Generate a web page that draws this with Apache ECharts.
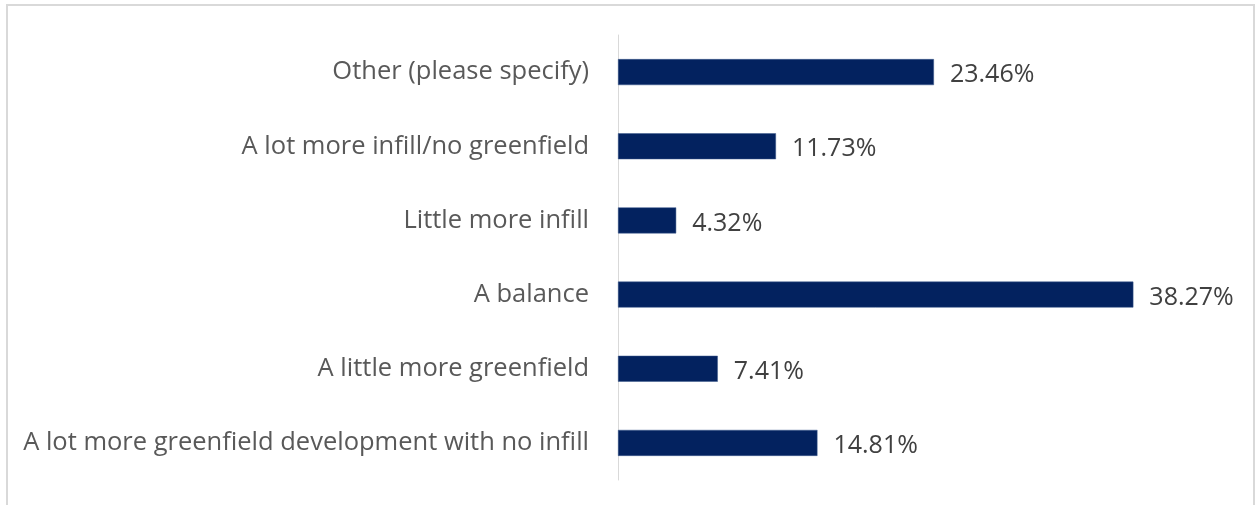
<!DOCTYPE html>
<html>
<head>
<meta charset="utf-8">
<script src="https://cdn.jsdelivr.net/npm/echarts@6/dist/echarts.min.js"></script>
<style>
  html, body { margin: 0; padding: 0; background: #fff; }
  #main { width: 1255px; height: 505px; }
</style>
</head>
<body>
<div id="main"></div>
<script>
// categories from bottom to top
var categories = [
    "A lot more greenfield development with no infill",
    "A little more greenfield",
    "A balance",
    "Little more infill",
    "A lot more infill/no greenfield",
    "Other (please specify)"
];
var values = [14.81, 7.41, 38.27, 4.32, 11.73, 23.46];

var chart = echarts.init(document.getElementById("main"));

var option = {
    animation: false,
    backgroundColor: '#ffffff',
    graphic: [
        {   // outer frame
            type: 'rect',
            shape: { x: 7, y: 5, width: 1247, height: 520 },
            style: { fill: 'none', stroke: '#d9d9d9', lineWidth: 2 }
        }
    ],
    grid: {
        left: 618,
        right: 31,
        top: 35,
        bottom: 25
    },
    xAxis: {
        type: 'value',
        min: 0,
        max: 45,
        show: false
    },
    yAxis: {
        type: 'category',
        data: categories,
        axisLine: { show: true, lineStyle: { color: '#d9d9d9', width: 1 } },
        axisTick: { show: false },
        axisLabel: {
            margin: 29,
            color: '#595959',
            fontSize: 25.5,
            fontFamily: 'Open Sans',
            padding: [4, 0, 0, 0]
        }
    },
    series: [
        {
            type: 'bar',
            data: values,
            barWidth: 26,
            itemStyle: { color: '#03225f', borderColor: '#3d5a8c', borderWidth: 0.5 },
            label: {
                show: true,
                position: 'right',
                distance: 16,
                color: '#404040',
                fontSize: 25,
                fontFamily: 'Open Sans',
                offset: [0, 3],
                formatter: function (p) { return p.value.toFixed(2) + '%'; }
            }
        }
    ]
};
chart.setOption(option);
</script>
</body>
</html>
